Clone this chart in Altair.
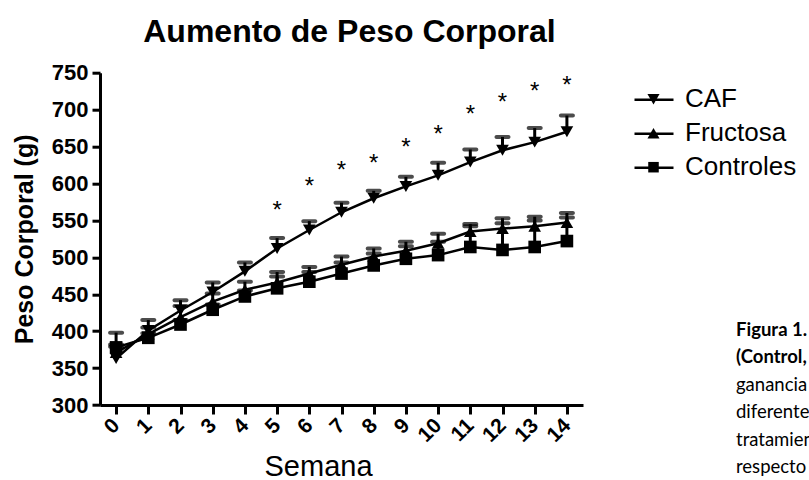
import altair as alt
import pandas as pd

# ---------------- data ----------------
semanas = list(range(15))
grupos = ["CAF", "Fructosa", "Controles"]

caf = [363, 401, 428, 453, 481, 512, 537, 561, 580, 596, 611, 629, 645, 656, 670]
caf_err = [35, 14, 14, 13, 12, 14, 12, 13, 10, 13, 17, 17, 18, 19, 22]

fructosa = [371, 396, 419, 440, 456, 466, 478, 490, 501, 509, 519, 535, 539, 542, 547]
fructosa_err = [8, 9, 15, 11, 11, 14, 9, 11, 11, 12, 13, 10, 14, 13, 13]

controles = [378, 391, 409, 429, 447, 458, 467, 478, 489, 498, 503, 514, 510, 514, 522]
controles_err = [4, 6, 6, 7, 8, 16, 13, 15, 16, 17, 18, 28, 36, 36, 32]

ast_semanas = [5, 6, 7, 8, 9, 10, 11, 12, 13, 14]
ast_peso = [572, 605, 627, 636, 657, 675, 702, 719, 734, 742]

y_ticks = [300, 350, 400, 450, 500, 550, 600, 650, 700, 750]

caption_bold = ["Figura 1.", "(Control,"]
caption_normal = ["ganancia", "diferente", "tratamien", "respecto"]

# ---------------- tables ----------------
rows = []
for g, vals, errs in [("CAF", caf, caf_err), ("Fructosa", fructosa, fructosa_err),
                      ("Controles", controles, controles_err)]:
    for s, v, e in zip(semanas, vals, errs):
        rows.append({"grupo": g, "semana": s, "peso": v, "sup": v + e})
df = pd.DataFrame(rows)
df_ast = pd.DataFrame({"semana": ast_semanas, "peso": ast_peso, "t": ["*"] * len(ast_semanas)})

FONT = "Liberation Sans"
YTITLE = "Peso Corporal (g)"

xscale = alt.Scale(domain=[-0.5, 14.5], nice=False, zero=False)
yscale = alt.Scale(domain=[300, 750], nice=False, zero=False)

xaxis = alt.Axis(values=semanas, labelAngle=-45, labelAlign="right", labelBaseline="middle",
                 labelFont=FONT, labelFontSize=21, labelFontWeight="bold", labelColor="black",
                 labelPadding=8, labelOverlap=False, tickColor="black", tickWidth=3, tickSize=9,
                 domainColor="black", domainWidth=3, grid=False,
                 titleFont=FONT, titleFontSize=29, titleFontWeight="normal", titleColor="black",
                 titleX=218, titleY=70, titleBaseline="alphabetic", titleAlign="center")
yaxis = alt.Axis(values=y_ticks, labelFont=FONT, labelFontSize=22, labelFontWeight="bold",
                 labelColor="black", labelPadding=4, labelOverlap=False,
                 tickColor="black", tickWidth=3, tickSize=8,
                 domainColor="black", domainWidth=3, grid=False,
                 titleFont=FONT, titleFontSize=25, titleFontWeight="bold", titleColor="black",
                 titlePadding=14)

X = alt.X("semana:Q", scale=xscale, axis=xaxis, title="Semana")
Y = alt.Y("peso:Q", scale=yscale, axis=yaxis, title=YTITLE)
Ysup = alt.Y("sup:Q", scale=yscale, axis=yaxis, title=YTITLE)

base = alt.Chart(df)

lines = base.mark_line(color="black", strokeWidth=2.5).encode(x=X, y=Y, detail="grupo:N")
rules = base.mark_rule(color="black", strokeWidth=3).encode(x=X, y=Y, y2="sup:Q")
caps = base.mark_tick(color="black", thickness=4, size=16, orient="horizontal",
                      cornerRadius=2).encode(x=X, y=Ysup)
points = base.mark_point(filled=True, color="black", opacity=1, size=160).encode(
    x=X, y=Y,
    shape=alt.Shape("grupo:N", scale=alt.Scale(domain=grupos,
                                               range=["triangle-down", "triangle-up", "square"]),
                    legend=None))

LEG_X, LEG_Y = 533, 6
common_leg = dict(title=None, orient="none", legendX=LEG_X, legendY=LEG_Y,
                  symbolSize=1521, symbolOpacity=1, labelFont=FONT, labelFontSize=26,
                  labelColor="black", labelOffset=11, rowPadding=0, padding=0)

# legend: filled marker part
marker_paths = [
    "M-0.31,-0.27L0.31,-0.27L0,0.27Z",
    "M-0.31,0.27L0.31,0.27L0,-0.27Z",
    "M-0.27,-0.27H0.27V0.27H-0.27Z",
]
legend_markers = base.mark_point(filled=True, color="black", opacity=0).encode(
    x=X, y=Y,
    shape=alt.Shape("grupo:N", scale=alt.Scale(domain=grupos, range=marker_paths),
                    legend=alt.Legend(symbolFillColor="black", **common_leg)))

# legend: line part
line_paths = ["M-1,0H1", "M-1,0H1", "M-1,0H1"]
legend_lines = base.mark_point(filled=False, color="black", opacity=0).encode(
    x=X, y=Y,
    shape=alt.Shape("grupo:N", scale=alt.Scale(domain=grupos, range=line_paths),
                    legend=alt.Legend(symbolStrokeColor="black", symbolStrokeWidth=2.5,
                                      labelOpacity=0, **common_leg)))

asterisks = alt.Chart(df_ast).mark_text(font=FONT, fontSize=24, color="black",
                                        baseline="alphabetic", dy=14).encode(
    x=X, y=Y, text="t:N")

cap_b = alt.Chart(pd.DataFrame({"a": [0]})).mark_text(
    text=caption_bold, font="Lato", fontSize=18.5, fontWeight="bold", color="black",
    align="left", baseline="middle", lineHeight=27.5).encode(
    x=alt.value(636), y=alt.value(257))
cap_n = alt.Chart(pd.DataFrame({"a": [0]})).mark_text(
    text=caption_normal, font="Lato", fontSize=18.5, color="black",
    align="left", baseline="middle", lineHeight=27.5).encode(
    x=alt.value(636), y=alt.value(312))

chart = alt.layer(lines, rules, caps, points, legend_lines, legend_markers, asterisks,
                  cap_b, cap_n).resolve_scale(
    shape="independent"
).properties(
    width=483, height=332.3,
    autosize=alt.AutoSizeParams(type="none"),
    padding={"left": 100, "top": 72.7, "right": 226, "bottom": 75},
    title=alt.TitleParams("Aumento de Peso Corporal", font=FONT, fontSize=32, fontWeight="bold",
                          color="black", anchor="middle", offset=13, dx=8),
    background="white",
).configure_view(stroke=None)

chart.save("out.html", embed_options={"renderer": "svg", "actions": False})
